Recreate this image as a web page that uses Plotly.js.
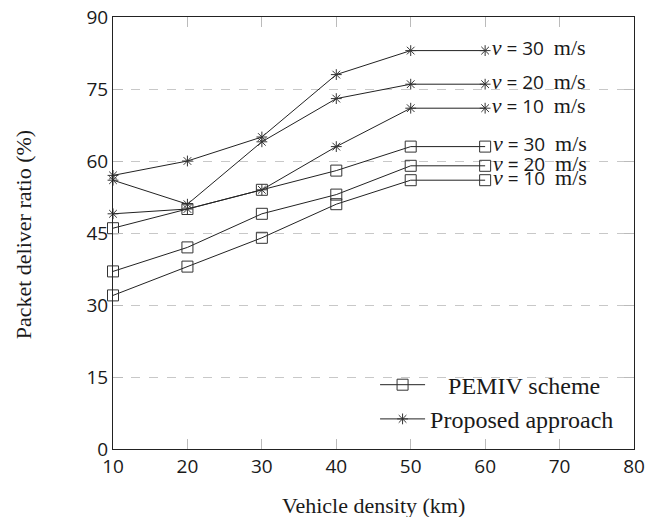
<!DOCTYPE html>
<html>
<head>
<meta charset="utf-8">
<script src="https://cdn.plot.ly/plotly-3.0.1.min.js"></script>
<style>html,body{margin:0;padding:0;background:#fff;}#chart{width:650px;height:517px;}</style>
</head>
<body>
<div id="chart"></div>
<script>
// ---- data ----
const vehicleDensity = [10, 20, 30, 40, 50, 60];

const proposed30 = [57, 60, 65, 78, 83, 83];
const proposed20 = [56, 51, 64, 73, 76, 76];
const proposed10 = [49, 50, 54, 63, 71, 71];

const pemiv30 = [46, 50, 54, 58, 63, 63];
const pemiv20 = [37, 42, 49, 53, 59, 59];
const pemiv10 = [32, 38, 44, 51, 56, 56];

const speedLabels = ['30', '20', '10'];
const schemeNames = ['\u00a0\u00a0\u00a0PEMIV scheme', 'Proposed approach'];

const xTicks = [10, 20, 30, 40, 50, 60, 70, 80];
const yTicks = [0, 15, 30, 45, 60, 75, 90];

const xTitle = 'Vehicle density (km)';
const yTitle = 'Packet deliver ratio (%)';

// ---- build ----
const serif = 'Liberation Serif';
const sans = 'Open Sans';

function speedText(s) {
  return '<span style="font-family:Liberation Serif;font-style:italic;font-size:22px">v</span>\u00a0=\u00a0' + s +
         '\u00a0\u00a0<span style="font-family:Liberation Serif;font-size:22px">m/s</span>';
}

function endLabel(arr, s) {
  return arr.map((v, i) => i === arr.length - 1 ? speedText(s) : '');
}

function makeTrace(yArr, speed, group, symbol, size, showLeg) {
  return {
    x: vehicleDensity,
    y: yArr,
    type: 'scatter',
    mode: 'lines+markers+text',
    text: endLabel(yArr, speed),
    textposition: 'middle right',
    textfont: {family: sans, size: 19, color: '#1a1a1a'},
    line: {color: '#222', width: 1},
    marker: {symbol: symbol, size: size, color: '#333', line: {color: '#333', width: 1}},
    name: group,
    legendgroup: group,
    showlegend: showLeg,
    cliponaxis: false,
    hoverinfo: 'x+y'
  };
}

const traces = [
  makeTrace(pemiv30, speedLabels[0], schemeNames[0], 'square-open', 11, true),
  makeTrace(pemiv20, speedLabels[1], schemeNames[0], 'square-open', 11, false),
  makeTrace(pemiv10, speedLabels[2], schemeNames[0], 'square-open', 11, false),
  makeTrace(proposed30, speedLabels[0], schemeNames[1], 'asterisk-open', 9, true),
  makeTrace(proposed20, speedLabels[1], schemeNames[1], 'asterisk-open', 9, false),
  makeTrace(proposed10, speedLabels[2], schemeNames[1], 'asterisk-open', 9, false)
];

const layout = {
  width: 650,
  height: 517,
  margin: {l: 113, r: 16, t: 17, b: 68, pad: 0},
  paper_bgcolor: '#fff',
  plot_bgcolor: '#fff',
  font: {family: sans, size: 19, color: '#1a1a1a'},
  showlegend: true,
  legend: {
    x: 0.503, xanchor: 'left',
    y: 0.2, yanchor: 'top',
    bgcolor: 'rgba(0,0,0,0)',
    borderwidth: 0,
    itemwidth: 45,
    tracegroupgap: 0,
    traceorder: 'normal',
    font: {family: serif, size: 24, color: '#1a1a1a'}
  },
  xaxis: {
    range: [10, 80],
    tickvals: xTicks,
    ticktext: xTicks.map(String),
    ticks: 'inside',
    ticklen: 10,
    tickcolor: '#bbb',
    tickwidth: 1,
    showline: true,
    linecolor: '#222',
    linewidth: 1,
    mirror: 'ticks',
    showgrid: false,
    zeroline: false,
    tickfont: {family: sans, size: 19, color: '#1a1a1a'},
    automargin: false
  },
  yaxis: {
    range: [0, 90],
    tickvals: yTicks,
    ticktext: yTicks.map(String),
    ticks: 'inside',
    ticklen: 10,
    tickcolor: '#bbb',
    tickwidth: 1,
    showline: true,
    linecolor: '#222',
    linewidth: 1,
    mirror: 'ticks',
    showgrid: true,
    gridcolor: '#c8c8c8',
    gridwidth: 1,
    griddash: 'dash',
    zeroline: false,
    tickfont: {family: sans, size: 19, color: '#1a1a1a'},
    automargin: false
  },
  annotations: [
    {text: xTitle, xref: 'paper', yref: 'paper', x: 0.5, y: -0.13, xanchor: 'center', yanchor: 'middle',
     showarrow: false, font: {family: serif, size: 22, color: '#1a1a1a'}},
    {text: yTitle, xref: 'paper', yref: 'paper', x: -0.1727, y: 0.497, xanchor: 'center', yanchor: 'middle',
     textangle: -90, showarrow: false, font: {family: serif, size: 22, color: '#1a1a1a'}}
  ]
};

Plotly.newPlot('chart', traces, layout, {displayModeBar: false, staticPlot: true});
</script>
</body>
</html>
